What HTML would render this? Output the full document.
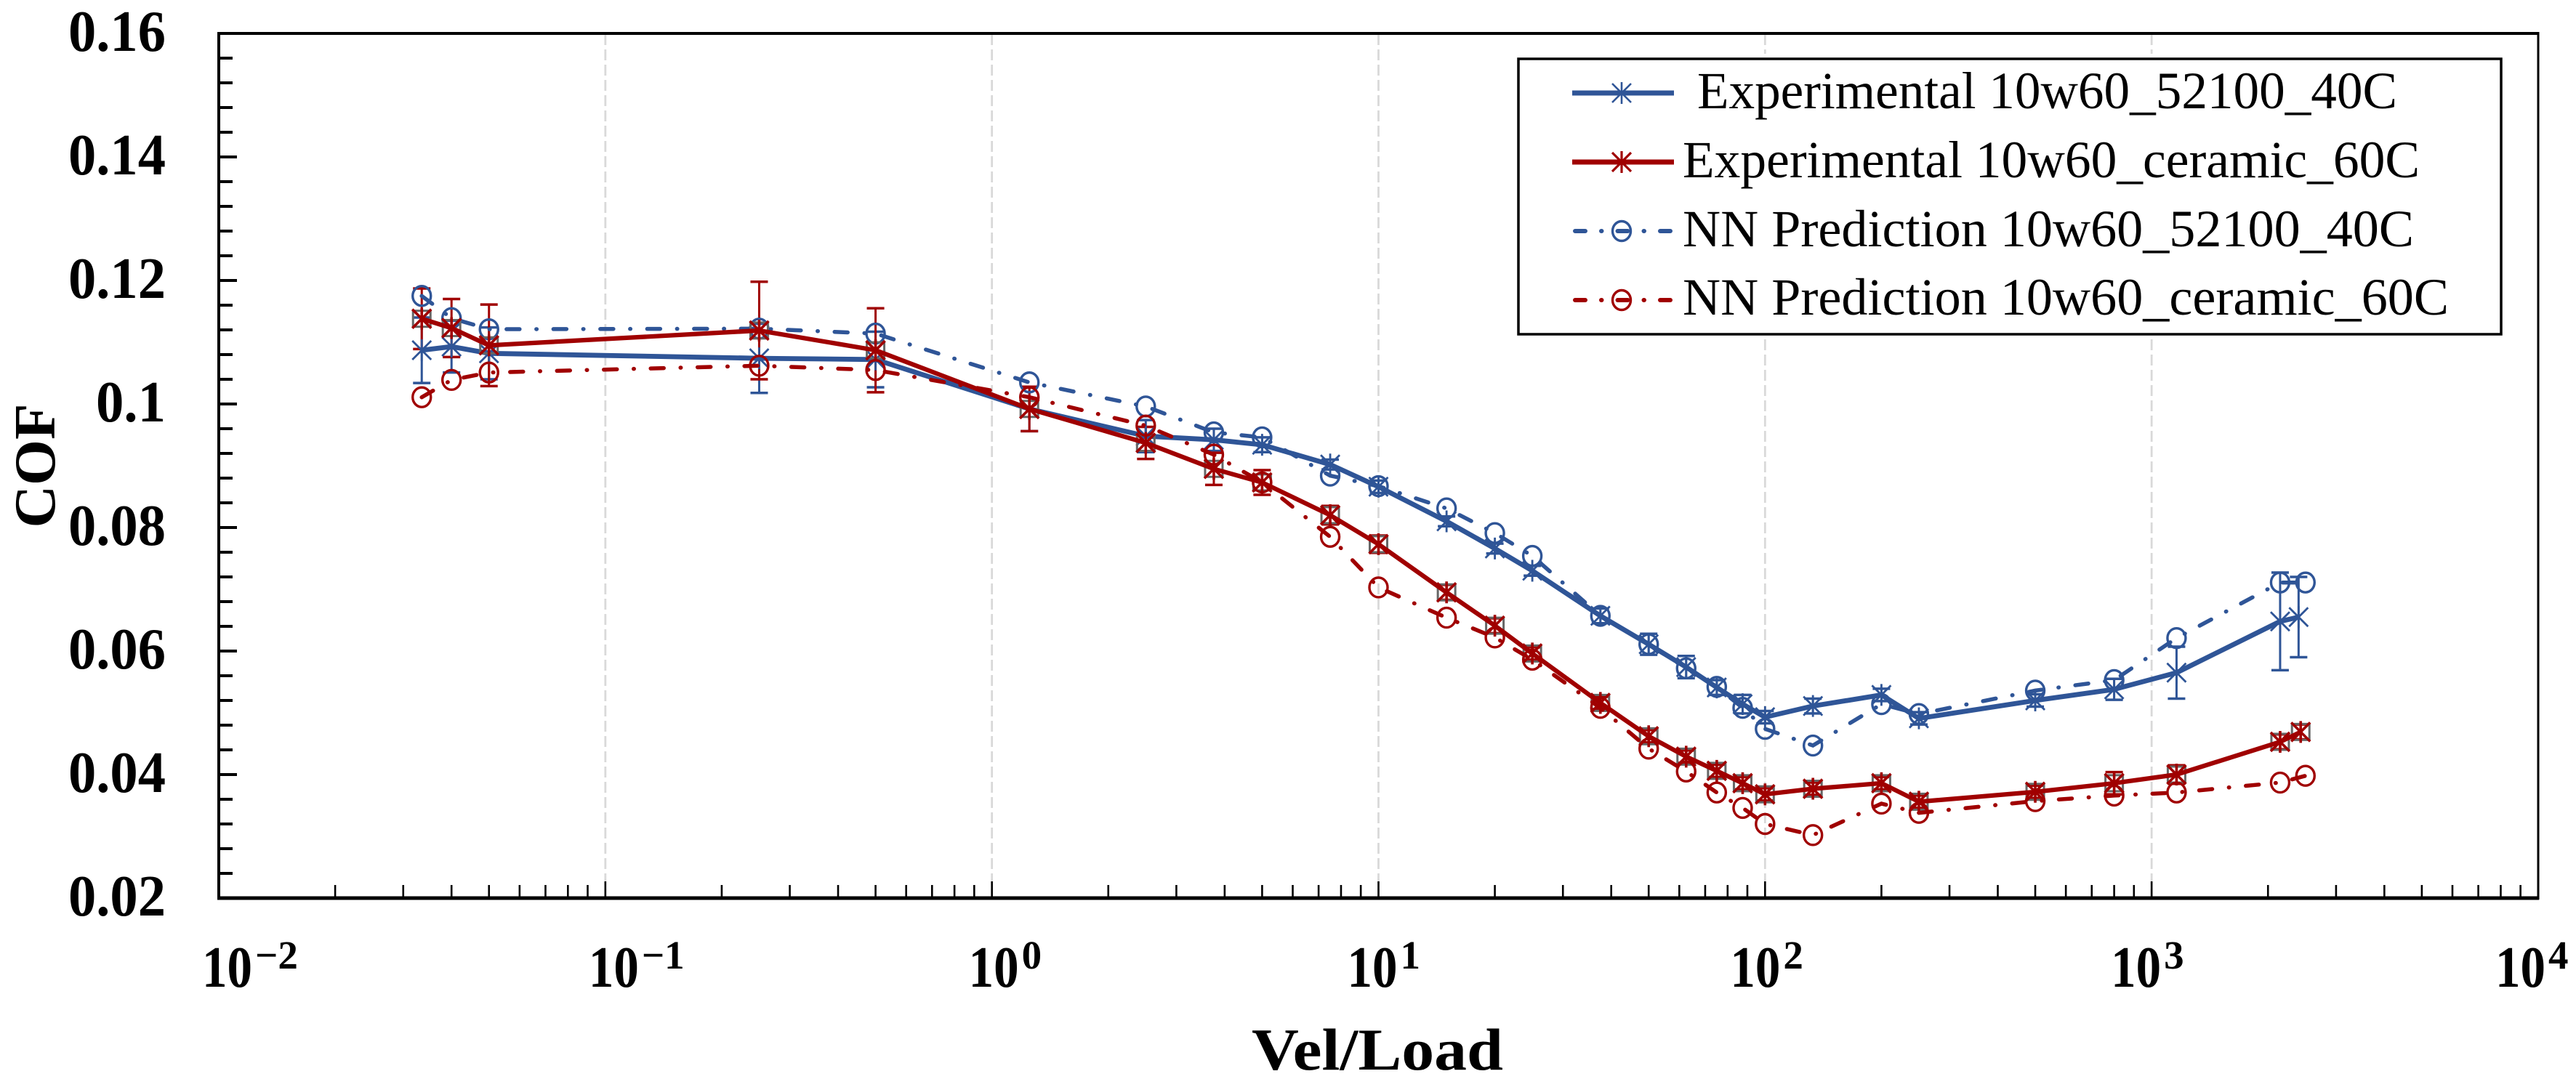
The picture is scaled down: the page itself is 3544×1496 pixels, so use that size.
<!DOCTYPE html>
<html lang="en">
<head>
<meta charset="utf-8">
<title>COF vs Vel/Load</title>
<style>
html,body{margin:0;padding:0;background:#fff;}
svg{display:block;font-family:"Liberation Serif",serif;}
</style>
</head>
<body>
<svg id="chart" xmlns="http://www.w3.org/2000/svg" width="3544" height="1496" viewBox="0 0 3544 1496">
  <rect x="0" y="0" width="3544" height="1496" fill="#fff"/>
  <g id="grid"></g>
  <g id="axes"></g>
  <g id="errors"></g>
  <g id="series"></g>
  <text transform="translate(75,641) rotate(-90)" text-anchor="middle" font-size="81" font-weight="bold" textLength="171" lengthAdjust="spacingAndGlyphs">COF</text>
  <text x="1722" y="1472" font-size="82" font-weight="bold" textLength="346" lengthAdjust="spacingAndGlyphs">Vel/Load</text>
  <g>
    <rect x="2084" y="74" width="1362" height="392" fill="#fff"/>
    <rect x="2089" y="81" width="1352" height="379" fill="#fff" stroke="#000" stroke-width="3.5"/>
    <g id="legend-keys"></g>
    <text x="2335" y="149" font-size="72" textLength="963" lengthAdjust="spacingAndGlyphs">Experimental 10w60_52100_40C</text>
    <text x="2315" y="244" font-size="72" textLength="1014" lengthAdjust="spacingAndGlyphs">Experimental 10w60_ceramic_60C</text>
    <text x="2315" y="339" font-size="72" textLength="1006" lengthAdjust="spacingAndGlyphs">NN Prediction 10w60_52100_40C</text>
    <text x="2315" y="433" font-size="72" textLength="1054" lengthAdjust="spacingAndGlyphs">NN Prediction 10w60_ceramic_60C</text>
  </g>
</svg>
<script>
var velExpBlue = [0.0335,0.04,0.05,0.25,0.5,1.25,2.5,3.75,5,7.5,10,15,20,25,37.5,50,62.5,75,87.5,100,133,200,250,500,800,1160,2150,2400];
var velExpRed  = [0.0335,0.04,0.05,0.25,0.5,1.25,2.5,3.75,5,7.5,10,15,20,25,37.5,50,62.5,75,87.5,100,133,200,250,500,800,1160,2150,2430];
var velNN      = [0.0335,0.04,0.05,0.25,0.5,1.25,2.5,3.75,5,7.5,10,15,20,25,37.5,50,62.5,75,87.5,100,133,200,250,500,800,1160,2150,2500];
var cofExpBlue = [0.1087,0.1093,0.1082,0.1074,0.1072,0.0992,0.0948,0.0942,0.0934,0.0902,0.0866,0.0810,0.0766,0.0730,0.0657,0.0611,0.0574,0.0541,0.0514,0.0493,0.0511,0.0529,0.0491,0.0520,0.0538,0.0565,0.0648,0.0655];
var cofExpRed  = [0.1138,0.1123,0.1095,0.1119,0.1087,0.0992,0.0937,0.0895,0.0873,0.0820,0.0773,0.0695,0.0641,0.0596,0.0516,0.0462,0.0429,0.0406,0.0386,0.0368,0.0377,0.0386,0.0356,0.0372,0.0386,0.0400,0.0453,0.0469];
var cofNNBlue  = [0.1175,0.1139,0.1121,0.1122,0.1114,0.1035,0.0996,0.0954,0.0946,0.0884,0.0867,0.0831,0.0791,0.0754,0.0657,0.0611,0.0572,0.0542,0.0508,0.0474,0.0447,0.0514,0.0498,0.0536,0.0553,0.0621,0.0711,0.0711];
var cofNNRed   = [0.1011,0.1039,0.1051,0.1062,0.1055,0.1011,0.0965,0.0918,0.0873,0.0785,0.0703,0.0654,0.0622,0.0586,0.0508,0.0442,0.0405,0.0371,0.0346,0.0320,0.0302,0.0353,0.0338,0.0357,0.0366,0.0371,0.0387,0.0398];
var errExpBlue = [0.0053,0.0042,0.0042,0.0056,0.0045,0.0036,0.0026,0.0018,0.0012,0.0008,0.0010,0.0008,0.0008,0.0008,0.0012,0.0017,0.0018,0.0012,0.0015,0.0010,0.0012,0.0010,0.0010,0.0010,0.0017,0.0042,0.0079,0.0065];
var errExpRed  = [0.0049,0.0047,0.0066,0.0079,0.0068,0.0036,0.0026,0.0026,0.0020,0.0015,0.0014,0.0012,0.0012,0.0010,0.0010,0.0010,0.0010,0.0010,0.0010,0.0010,0.0010,0.0010,0.0010,0.0010,0.0018,0.0015,0.0012,0.0012];
var yTickLabels = ['0.16','0.14','0.12','0.1','0.08','0.06','0.04','0.02'];
var xTickExponents = ['-2','-1','0','1','2','3','4'];

var BLUE = '#2F5597';
var RED = '#A00000';
var NS = 'http://www.w3.org/2000/svg';

function xScale(v){ return 301 + (Math.log10(v) + 2) * 531.83; }
function yScale(v){ return 1236 - (v - 0.02) * 8500; }

function add(parent, tag, attrs, name){
  var el = document.createElementNS(NS, tag);
  for (var k in attrs) { el.setAttribute(k, attrs[k]); }
  
  
  parent.appendChild(el);
  return el;
}
function seg(parent, x1, y1, x2, y2, color, w, name){
  return add(parent, 'line', {x1:x1, y1:y1, x2:x2, y2:y2, stroke:color, 'stroke-width':w}, name);
}

var grid = document.getElementById('grid');
var axes = document.getElementById('axes');
var errors = document.getElementById('errors');
var seriesG = document.getElementById('series');
var legendKeys = document.getElementById('legend-keys');

/* gridlines and x ticks */
xTickExponents.forEach(function(e){
  var exp = Number(e);
  var px = xScale(Math.pow(10, exp));
  if (exp > -2 && exp < 4) {
    var g = seg(grid, px, 47, px, 1236, '#d9d9d9', 2.8, 'gridline-x');
    g.setAttribute('stroke-dasharray', '15 6');
    seg(axes, px, 1213, px, 1236, '#000', 2.6, 'x-major-tick');
  }
  if (exp < 4) {
    for (var m = 2; m <= 9; m++) {
      var mx = xScale(m * Math.pow(10, exp));
      seg(axes, mx, 1218, mx, 1236, '#000', 2.6, 'x-minor-tick');
    }
  }
  var off = exp < 0 ? 23 : (exp === 0 ? 32 : (exp === 1 ? 43 : (exp === 2 ? 48 : (exp === 3 ? 56 : 59))));
  var t = add(axes, 'text', {x:px - off, y:1358, 'font-size':80, 'font-weight':'bold', textLength:69, lengthAdjust:'spacingAndGlyphs'}, 'x-tick-label');
  t.textContent = '10';
  var s = add(axes, 'text', {x:px - off + 73, y:1333, 'font-size':55, 'font-weight':'bold'}, 'x-tick-exponent');
  s.textContent = e.replace('-', '\u2212');
});

/* y ticks */
yTickLabels.forEach(function(lab){
  var v = Number(lab);
  var py = yScale(v);
  if (v > 0.021 && v < 0.159) {
    seg(axes, 301, py, 326, py, '#000', 4, 'y-major-tick');
  }
  if (v > 0.021) {
    for (var i = 1; i <= 4; i++) {
      var my = yScale(v - i * 0.004);
      seg(axes, 301, my, 320, my, '#000', 4, 'y-minor-tick');
    }
  }
  var t = add(axes, 'text', {x:228, y:py + 24, 'text-anchor':'end', 'font-size':80, 'font-weight':'bold', textLength:lab.length === 4 ? 134 : 96, lengthAdjust:'spacingAndGlyphs'}, 'y-tick-label');
  t.textContent = lab;
});

/* spines */
seg(axes, 301, 44, 301, 1238, '#000', 4, 'y-axis-line');
seg(axes, 299, 46, 3493, 46, '#000', 4, 'top-spine');
seg(axes, 3492, 44, 3492, 1238, '#000', 3, 'right-spine');
seg(axes, 299, 1236, 3493, 1236, '#000', 5, 'x-axis-line');

/* error bars */
function drawErr(xs, ys, errs, color, name){
  xs.forEach(function(v, i){
    var px = xScale(v);
    var t = yScale(ys[i] + errs[i]);
    var b = yScale(ys[i] - errs[i]);
    seg(errors, px, t, px, b, color, 3, name + '-stem');
    seg(errors, px - 12, t, px + 12, t, color, 3.5, name + '-cap-top');
    seg(errors, px - 12, b, px + 12, b, color, 3.5, name + '-cap-bottom');
  });
}
drawErr(velExpBlue, cofExpBlue, errExpBlue, BLUE, 'error-bar-exp-52100');
drawErr(velExpRed, cofExpRed, errExpRed, RED, 'error-bar-exp-ceramic');

/* marker helpers */
function asterisk(parent, px, py, color, w, name){
  var r = 13;
  var p = 'M' + (px - r) + ' ' + (py - r) + 'L' + (px + r) + ' ' + (py + r) +
          'M' + (px - r) + ' ' + (py + r) + 'L' + (px + r) + ' ' + (py - r) +
          'M' + px + ' ' + (py - r - 2) + 'L' + px + ' ' + (py + r + 2);
  return add(parent, 'path', {d:p, fill:'none', stroke:color, 'stroke-width':w}, name);
}
function circle(parent, px, py, color, name){
  return add(parent, 'ellipse', {cx:px, cy:py, rx:12.5, ry:13.5, fill:'none', stroke:color, 'stroke-width':3.4}, name);
}
function linePts(xs, ys){
  return xs.map(function(v, i){ return xScale(v).toFixed(1) + ',' + yScale(ys[i]).toFixed(1); }).join(' ');
}

function drawExp(xs, ys, color, markW, lineW, name, squares){
  if (squares) {
    xs.forEach(function(v, i){
      add(seriesG, 'rect', {x:xScale(v) - 12, y:yScale(ys[i]) - 11, width:24, height:22, fill:'none', stroke:'#666', 'stroke-width':3}, name + '-marker-box');
    });
  }
  add(seriesG, 'polyline', {points:linePts(xs, ys), fill:'none', stroke:color, 'stroke-width':lineW, 'stroke-linejoin':'round'}, name + '-line');
  xs.forEach(function(v, i){
    asterisk(seriesG, xScale(v), yScale(ys[i]), color, markW, name + '-point');
  });
}
function drawNN(xs, ys, color, name){
  add(seriesG, 'polyline', {points:linePts(xs, ys), fill:'none', stroke:color, 'stroke-width':5.5, 'stroke-linecap':'round', 'stroke-dasharray':'18 23 0.5 23'}, name + '-line');
  xs.forEach(function(v, i){
    circle(seriesG, xScale(v), yScale(ys[i]), color, name + '-point');
  });
}

drawExp(velExpBlue, cofExpBlue, BLUE, 2.8, 6.8, 'exp-52100', false);
drawNN(velNN, cofNNBlue, BLUE, 'nn-52100');
drawExp(velExpRed, cofExpRed, RED, 3.6, 6.2, 'exp-ceramic', true);
drawNN(velNN, cofNNRed, RED, 'nn-ceramic');

/* legend keys */
seg(legendKeys, 2163, 128, 2303, 128, BLUE, 7, 'legend-line-exp-52100');
asterisk(legendKeys, 2231, 128, BLUE, 2.6, 'legend-marker-exp-52100');
seg(legendKeys, 2163, 223, 2303, 223, RED, 7, 'legend-line-exp-ceramic');
asterisk(legendKeys, 2231, 223, RED, 3.2, 'legend-marker-exp-ceramic');
[[318, BLUE, '52100'], [413, RED, 'ceramic']].forEach(function(k){
  var l = seg(legendKeys, 2167, k[0], 2303, k[0], k[1], 6, 'legend-line-nn-' + k[2]);
  l.setAttribute('stroke-linecap', 'round');
  l.setAttribute('stroke-dasharray', '14 22 0.5 22');
  circle(legendKeys, 2231, k[0], k[1], 'legend-marker-nn-' + k[2]);
});
</script>
</body>
</html>
